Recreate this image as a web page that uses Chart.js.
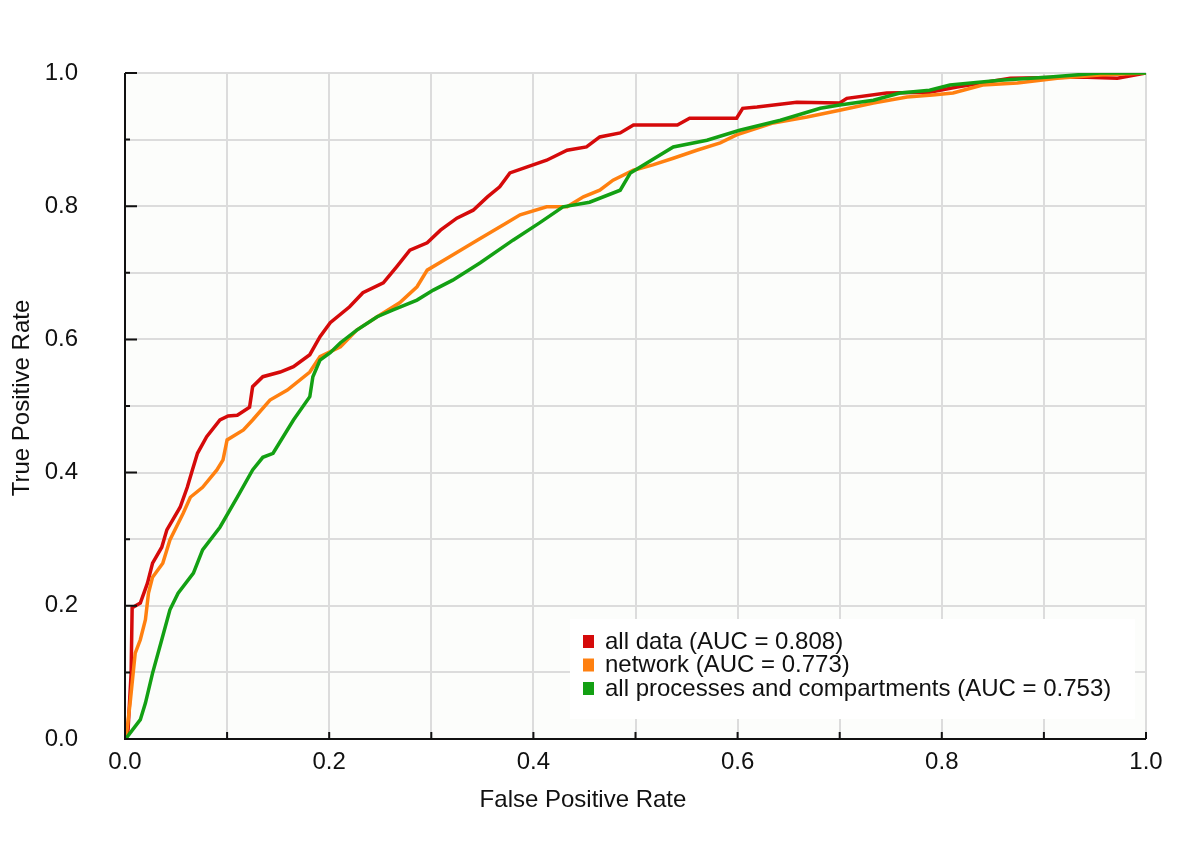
<!DOCTYPE html>
<html lang="en">
<head>
  <meta charset="utf-8">
  <script src="https://cdn.jsdelivr.net/npm/chart.js"></script>
  <title>ROC curves</title>
  <style>
    body { margin: 0; background: #fff; }
    #wrap { width: 1200px; height: 857px; }
  </style>
</head>
<body>
  <div id="wrap"><canvas id="rocChart"></canvas></div>
<script>
  // series labels and colours
  const seriesLabels = [
    'all data (AUC = 0.808)',
    'network (AUC = 0.773)',
    'all processes and compartments (AUC = 0.753)'
  ];
  const seriesColors = ['#d50a0a', '#ff8010', '#13a013'];

  // all data
  const allDataFpr = [0, 0.003, 0.006, 0.007, 0.015, 0.022, 0.027, 0.036, 0.041, 0.054, 0.061, 0.066, 0.071, 0.080, 0.093,
    0.101, 0.110, 0.122, 0.125, 0.135, 0.152, 0.165, 0.181, 0.191, 0.201, 0.220, 0.233, 0.253, 0.266, 0.279, 0.296,
    0.309, 0.325, 0.341, 0.355, 0.367, 0.377, 0.394, 0.413, 0.433, 0.452, 0.465, 0.485, 0.498, 0.541, 0.553, 0.599,
    0.605, 0.619, 0.658, 0.700, 0.707, 0.746, 0.788, 0.815, 0.867, 0.935, 0.972, 1];
  const allDataTpr = [0, 0.014, 0.099, 0.197, 0.204, 0.234, 0.264, 0.288, 0.314, 0.348, 0.378, 0.404, 0.429, 0.454, 0.479,
    0.485, 0.486, 0.498, 0.529, 0.544, 0.551, 0.559, 0.577, 0.604, 0.625, 0.649, 0.670, 0.685, 0.709, 0.734, 0.745,
    0.764, 0.782, 0.794, 0.814, 0.829, 0.850, 0.859, 0.869, 0.884, 0.889, 0.904, 0.910, 0.922, 0.922, 0.932, 0.932,
    0.947, 0.949, 0.956, 0.955, 0.962, 0.970, 0.971, 0.979, 0.992, 0.994, 0.992, 1];

  // network
  const networkFpr = [0, 0.002, 0.005, 0.010, 0.015, 0.020, 0.023, 0.027, 0.037, 0.044, 0.057, 0.064, 0.076, 0.090, 0.096,
    0.100, 0.116, 0.125, 0.142, 0.159, 0.181, 0.191, 0.211, 0.227, 0.247, 0.269, 0.286, 0.296, 0.318, 0.345, 0.374,
    0.387, 0.413, 0.433, 0.449, 0.465, 0.478, 0.498, 0.517, 0.537, 0.560, 0.583, 0.599, 0.635, 0.668, 0.700, 0.733,
    0.766, 0.791, 0.811, 0.840, 0.874, 0.913, 0.955, 1];
  const networkTpr = [0, 0.014, 0.054, 0.129, 0.149, 0.179, 0.219, 0.243, 0.264, 0.299, 0.339, 0.363, 0.378, 0.404, 0.419,
    0.449, 0.464, 0.479, 0.509, 0.524, 0.551, 0.574, 0.589, 0.614, 0.634, 0.655, 0.679, 0.704, 0.724, 0.749, 0.775,
    0.787, 0.799, 0.799, 0.814, 0.824, 0.839, 0.854, 0.862, 0.872, 0.884, 0.895, 0.907, 0.925, 0.934, 0.944, 0.955,
    0.964, 0.967, 0.970, 0.982, 0.985, 0.992, 0.997, 1];

  // all processes and compartments
  const processFpr = [0, 0.002, 0.015, 0.020, 0.027, 0.036, 0.044, 0.052, 0.067, 0.076, 0.093, 0.110, 0.125, 0.135, 0.145,
    0.165, 0.181, 0.184, 0.191, 0.201, 0.211, 0.227, 0.247, 0.262, 0.286, 0.302, 0.321, 0.348, 0.380, 0.406, 0.429,
    0.455, 0.485, 0.495, 0.537, 0.570, 0.602, 0.642, 0.681, 0.700, 0.733, 0.759, 0.788, 0.808, 0.857, 0.906, 0.955, 1];
  const processTpr = [0, 0.003, 0.029, 0.054, 0.099, 0.149, 0.194, 0.219, 0.249, 0.284, 0.318, 0.363, 0.404, 0.423, 0.429,
    0.479, 0.514, 0.544, 0.569, 0.580, 0.595, 0.614, 0.634, 0.644, 0.659, 0.674, 0.689, 0.715, 0.749, 0.775, 0.799,
    0.806, 0.824, 0.850, 0.889, 0.899, 0.914, 0.929, 0.947, 0.952, 0.959, 0.970, 0.974, 0.982, 0.989, 0.994, 1.0, 1];

  // axis ticks
  const majorTicks = [0, 0.2, 0.4, 0.6, 0.8, 1.0];
  const tickText = ['0.0', '0.2', '0.4', '0.6', '0.8', '1.0'];
  const axisTitles = ['False Positive Rate', 'True Positive Rate'];

  const FONT = '"Liberation Sans", Arial, sans-serif';
  const FSIZE = 24;

  const toPoints = (xs, ys) => xs.map((x, i) => ({ x: x, y: ys[i] }));
  const isMajor = (v) => majorTicks.findIndex(t => Math.abs(t - v) < 1e-6);
  const tickLabel = (v) => { const i = isMajor(v); return i >= 0 ? tickText[i] : ''; };

  // plot background, black axes with inward ticks, axis titles
  const frame = {
    id: 'frame',
    beforeDraw(chart) {
      const { ctx, chartArea: a } = chart;
      ctx.save();
      ctx.fillStyle = '#fcfdfb';
      ctx.fillRect(a.left, a.top, a.right - a.left, a.bottom - a.top);
      ctx.restore();
    },
    afterDraw(chart) {
      const { ctx, chartArea: a, scales } = chart;
      ctx.save();
      ctx.strokeStyle = '#111';
      ctx.lineWidth = 2;
      ctx.beginPath();
      ctx.moveTo(a.left, a.top); ctx.lineTo(a.left, a.bottom); ctx.lineTo(a.right, a.bottom);
      for (let k = 0; k <= 10; k++) {
        const v = k / 10;
        const yy = scales.y.getPixelForValue(v);
        ctx.moveTo(a.left, yy); ctx.lineTo(a.left + (isMajor(v) >= 0 ? 12 : 5), yy);
        const xx = scales.x.getPixelForValue(v);
        ctx.moveTo(xx, a.bottom); ctx.lineTo(xx, a.bottom - 7);
      }
      ctx.stroke();
      ctx.fillStyle = '#111';
      ctx.font = FSIZE + 'px ' + FONT;
      ctx.textAlign = 'center';
      ctx.textBaseline = 'middle';
      ctx.fillText(axisTitles[0], 583, 800);
      ctx.translate(22, 398);
      ctx.rotate(-Math.PI / 2);
      ctx.fillText(axisTitles[1], 0, 0);
      ctx.restore();
    },
    afterDatasetsDraw(chart) {
      // legend box inside the plot
      const { ctx } = chart;
      ctx.save();
      ctx.fillStyle = '#ffffff';
      ctx.fillRect(570, 619, 565, 100);
      ctx.font = FSIZE + 'px ' + FONT;
      ctx.textBaseline = 'middle';
      chart.data.datasets.forEach((ds, i) => {
        const cy = 641 + i * 23.5;
        ctx.fillStyle = ds.borderColor;
        ctx.fillRect(583, cy - 6, 11, 13);
        ctx.fillStyle = '#111';
        ctx.fillText(ds.label, 605, cy + 1);
      });
      ctx.restore();
    }
  };

  const makeSet = (i, xs, ys, order) => ({
    label: seriesLabels[i],
    data: toPoints(xs, ys),
    borderColor: seriesColors[i],
    backgroundColor: seriesColors[i],
    borderWidth: 3.5,
    pointRadius: 0,
    showLine: true,
    tension: 0,
    order: order
  });

  new Chart(document.getElementById('rocChart'), {
    type: 'scatter',
    data: {
      datasets: [
        makeSet(0, allDataFpr, allDataTpr, 2),
        makeSet(1, networkFpr, networkTpr, 1),
        makeSet(2, processFpr, processTpr, 0)
      ]
    },
    options: {
      responsive: true,
      maintainAspectRatio: false,
      animation: false,
      layout: { padding: { top: 73, right: 54, left: 0, bottom: 0 } },
      plugins: { legend: { display: false }, tooltip: { enabled: false } },
      scales: {
        x: {
          type: 'linear', min: 0, max: 1,
          afterFit(s) { s.height = 118; },
          grid: { color: '#dcdcdc', lineWidth: 2, drawTicks: false },
          border: { display: false },
          ticks: {
            stepSize: 0.1, autoSkip: false, maxRotation: 0, padding: 9,
            color: '#111', font: { family: FONT, size: FSIZE },
            callback: (v) => tickLabel(v)
          }
        },
        y: {
          type: 'linear', min: 0, max: 1,
          afterFit(s) { s.width = 125; },
          grid: { color: '#dcdcdc', lineWidth: 2, drawTicks: false },
          border: { display: false },
          ticks: {
            stepSize: 0.1, autoSkip: false, padding: 47,
            color: '#111', font: { family: FONT, size: FSIZE },
            callback: (v) => tickLabel(v)
          }
        }
      }
    },
    plugins: [frame]
  });
</script>
</body>
</html>
